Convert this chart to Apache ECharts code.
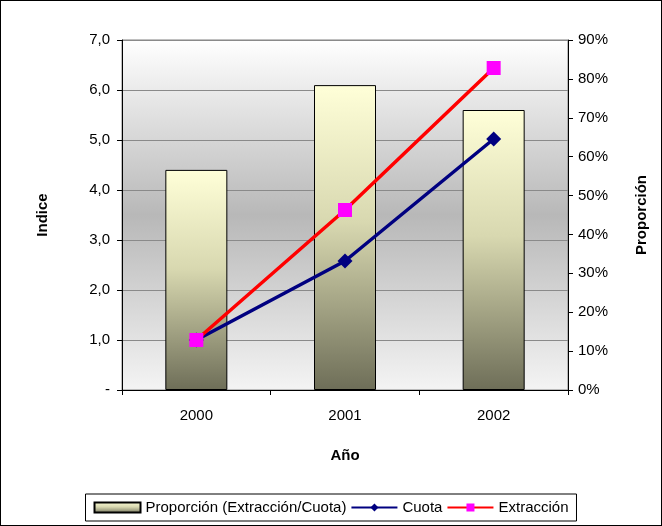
<!DOCTYPE html>
<html lang="es">
<head>
<meta charset="UTF-8">
<title>Indice y Proporción</title>
<script src="https://cdn.jsdelivr.net/npm/echarts@6.0.0/dist/echarts.min.js"></script>
<style>
  body { margin: 0; }
  #main { width: 660px; height: 524px; border: 1px solid #000; }
</style>
</head>
<body>
<div id="main"></div>
<script>
const years = ['2000', '2001', '2002'];
const proporcion = [0.566, 0.784, 0.72];
const cuota = [1.0, 2.58, 5.02];
const extraccion = [1.0, 3.6, 6.44];

const chart = echarts.init(document.getElementById('main'));
const font = 'Liberation Sans, Arial, sans-serif';

chart.setOption({
  textStyle: { fontFamily: font },
  grid: {
    left: 121, right: 93, top: 39, bottom: 135,
    show: true, borderColor: '#808080', borderWidth: 1,
    backgroundColor: new echarts.graphic.LinearGradient(0, 0, 0, 1, [
      { offset: 0, color: '#ffffff' },
      { offset: 0.5, color: '#b8b8b8' },
      { offset: 1, color: '#f4f4f4' }
    ])
  },
  legend: {
    bottom: 4, left: 'center',
    backgroundColor: '#fff', borderColor: '#000', borderWidth: 1,
    padding: [6, 8], itemGap: 4, itemWidth: 46, itemHeight: 10,
    textStyle: { fontSize: 15, color: '#000', fontFamily: font },
    data: [
      { name: 'Proporción (Extracción/Cuota)', icon: 'rect' },
      { name: 'Cuota' },
      { name: 'Extracción' }
    ]
  },
  xAxis: {
    type: 'category', data: years,
    name: 'Año', nameLocation: 'middle', nameGap: 58,
    nameTextStyle: { fontWeight: 'bold', fontSize: 15, color: '#000' },
    axisLine: { lineStyle: { color: '#000' } },
    axisTick: { show: true, lineStyle: { color: '#000' } },
    axisLabel: { color: '#000', fontSize: 15, margin: 18 }
  },
  yAxis: [{
    type: 'value', min: 0, max: 7, interval: 1,
    name: 'Indice', nameLocation: 'middle', nameGap: 72, nameRotate: 90,
    nameTextStyle: { fontWeight: 'bold', fontSize: 15, color: '#000' },
    axisLine: { show: true, lineStyle: { color: '#000' } },
    axisTick: { show: true, inside: false, lineStyle: { color: '#000' } },
    axisLabel: { color: '#000', fontSize: 15, margin: 12,
      formatter: v => v === 0 ? '-' : v.toFixed(1).replace('.', ',') },
    splitLine: { lineStyle: { color: '#8a8a8a' } }
  }, {
    type: 'value', min: 0, max: 0.9, interval: 0.1,
    name: 'Proporción', nameLocation: 'middle', nameGap: 66, nameRotate: 90,
    nameTextStyle: { fontWeight: 'bold', fontSize: 15, color: '#000' },
    axisLine: { show: true, lineStyle: { color: '#000' } },
    axisTick: { show: true, lineStyle: { color: '#000' } },
    axisLabel: { color: '#000', fontSize: 15, margin: 10,
      formatter: v => Math.round(v * 100) + '%' },
    splitLine: { show: false }
  }],
  series: [{
    name: 'Proporción (Extracción/Cuota)', type: 'bar', yAxisIndex: 1,
    data: proporcion, barWidth: 62,
    itemStyle: {
      borderColor: '#000', borderWidth: 1,
      color: new echarts.graphic.LinearGradient(0, 0, 0, 1, [
        { offset: 0, color: '#ffffd8' },
        { offset: 0.45, color: '#d8d8b0' },
        { offset: 1, color: '#6e6e58' }
      ])
    }
  }, {
    name: 'Cuota', type: 'line', data: cuota,
    symbol: 'diamond', symbolSize: 15,
    lineStyle: { color: '#000080', width: 3.5 },
    itemStyle: { color: '#000080' }
  }, {
    name: 'Extracción', type: 'line', data: extraccion,
    symbol: 'rect', symbolSize: 14,
    lineStyle: { color: '#ff0000', width: 3.5 },
    itemStyle: { color: '#ff00ff' }
  }]
});
</script>
</body>
</html>
